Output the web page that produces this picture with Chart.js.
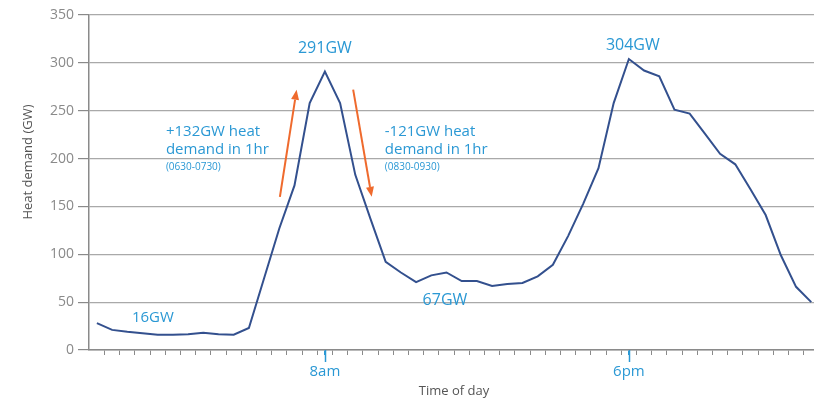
<!DOCTYPE html>
<html>
<head>
<meta charset="utf-8">
<script src="https://cdn.jsdelivr.net/npm/chart.js@4"></script>
<style>
  body { margin: 0; background: #fff; }
  canvas { display: block; }
</style>
</head>
<body>
<canvas id="chart" width="814" height="401"></canvas>
<script>
// half-hourly time (hours) and heat demand (GW)
const hours = [0.5, 1, 1.5, 2, 2.5, 3, 3.5, 4, 4.5, 5, 5.5, 6,
               6.5, 7, 7.5, 8, 8.5, 9, 9.5, 10, 10.5, 11, 11.5, 12,
               12.5, 13, 13.5, 14, 14.5, 15, 15.5, 16, 16.5, 17, 17.5, 18,
               18.5, 19, 19.5, 20, 20.5, 21, 21.5, 22, 22.5, 23, 23.5, 24];
const demand = [28, 21, 19, 17.5, 16, 16, 16.5, 18, 16.5, 16, 23, 75,
                127, 172, 258, 291, 258, 183, 137, 92, 81, 71, 78, 81,
                72, 72, 67, 69, 70, 77, 89, 119, 153, 190, 258, 304,
                292, 286, 251, 247, 226, 205, 194, 168, 141, 99, 66, 50];

const majorTicks = [8, 18];
const majorLabels = ['8am', '6pm'];
const yTicks = [0, 50, 100, 150, 200, 250, 300, 350];

// callout text, anchored in data units (hours, GW)
const callouts = [
    {text: '291GW', x: 8.0, y: 315, size: 16, align: 'center'},
    {text: '304GW', x: 18.13, y: 318.5, size: 16, align: 'center'},
    {text: '16GW', x: 2.34, y: 33.5, size: 15, align: 'center'},
    {text: '67GW', x: 11.95, y: 52, size: 16, align: 'center'},
    {text: '+132GW heat', x: 2.77, y: 228, size: 15, align: 'left'},
    {text: 'demand in 1hr', x: 2.77, y: 209, size: 15, align: 'left'},
    {text: '(0630-0730)', x: 2.77, y: 191.5, size: 10, align: 'left'},
    {text: '-121GW heat', x: 9.97, y: 228, size: 15, align: 'left'},
    {text: 'demand in 1hr', x: 9.97, y: 209, size: 15, align: 'left'},
    {text: '(0830-0930)', x: 9.97, y: 191.5, size: 10, align: 'left'}
];
const arrows = [
    {from: [6.52, 160], to: [7.07, 272]},
    {from: [8.93, 272], to: [9.54, 160]}
];

const BLUE = '#2a98d4';
const ORANGE = '#ef6a2d';
const LINE = '#33508e';
const GRID = '#a9a9a9';
const FONT = "'Open Sans', sans-serif";

const extras = {
    id: 'extras',
    afterDraw(chart) {
        const ctx = chart.ctx;
        const xs = chart.scales.x, ys = chart.scales.y;
        ctx.save();

        // longer blue major ticks
        ctx.strokeStyle = BLUE;
        ctx.lineWidth = 1.5;
        majorTicks.forEach(t => {
            const px = Math.round(xs.getPixelForValue(t)) + 0.5;
            ctx.beginPath();
            ctx.moveTo(px, ys.bottom);
            ctx.lineTo(px, ys.bottom + 12);
            ctx.stroke();
        });

        // callouts
        ctx.fillStyle = BLUE;
        ctx.textBaseline = 'middle';
        callouts.forEach(c => {
            ctx.font = c.size + 'px ' + FONT;
            ctx.textAlign = c.align;
            ctx.fillText(c.text, xs.getPixelForValue(c.x), ys.getPixelForValue(c.y));
        });

        // arrows
        ctx.strokeStyle = ORANGE;
        ctx.fillStyle = ORANGE;
        ctx.lineWidth = 2;
        arrows.forEach(a => {
            const x1 = xs.getPixelForValue(a.from[0]), y1 = ys.getPixelForValue(a.from[1]);
            const x2 = xs.getPixelForValue(a.to[0]), y2 = ys.getPixelForValue(a.to[1]);
            const ang = Math.atan2(y2 - y1, x2 - x1);
            const hl = 10, hw = 4;
            const bx = x2 - hl * Math.cos(ang), by = y2 - hl * Math.sin(ang);
            ctx.beginPath();
            ctx.moveTo(x1, y1);
            ctx.lineTo(bx, by);
            ctx.stroke();
            ctx.beginPath();
            ctx.moveTo(x2, y2);
            ctx.lineTo(bx + hw * Math.sin(ang), by - hw * Math.cos(ang));
            ctx.lineTo(bx - hw * Math.sin(ang), by + hw * Math.cos(ang));
            ctx.closePath();
            ctx.fill();
        });

        // axis titles
        ctx.fillStyle = '#555';
        ctx.font = '13px ' + FONT;
        ctx.textAlign = 'center';
        ctx.fillText('Time of day', 454, 391);
        ctx.translate(28, 162);
        ctx.rotate(-Math.PI / 2);
        ctx.fillText('Heat demand (GW)', 0, 0);
        ctx.restore();
    }
};

new Chart(document.getElementById('chart'), {
    type: 'line',
    data: {
        datasets: [{
            data: hours.map((h, i) => ({x: h, y: demand[i]})),
            borderColor: LINE,
            borderWidth: 2,
            pointRadius: 0,
            tension: 0
        }]
    },
    options: {
        responsive: false,
        animation: false,
        devicePixelRatio: 1,
        layout: {padding: {top: 15, right: 0, left: 0, bottom: 0}},
        plugins: {legend: {display: false}, tooltip: {enabled: false}},
        scales: {
            x: {
                type: 'linear',
                min: 0.24,
                max: 24.09,
                afterFit: s => { s.height = 51; },
                afterBuildTicks: s => {
                    const t = [];
                    for (let v = 0.75; v < 24; v += 0.5) t.push({value: v});
                    majorTicks.forEach(v => t.push({value: v}));
                    s.ticks = t;
                },
                grid: {
                    drawOnChartArea: false,
                    tickLength: 5,
                    tickColor: c => majorTicks.includes(c.tick && c.tick.value) ? BLUE : '#8a8a8a'
                },
                border: {color: '#8a8a8a', width: 1.5},
                ticks: {
                    autoSkip: false,
                    maxRotation: 0,
                    padding: 8,
                    color: BLUE,
                    font: {family: FONT, size: 15},
                    callback: v => {
                        const i = majorTicks.indexOf(v);
                        return i >= 0 ? majorLabels[i] : '';
                    }
                }
            },
            y: {
                min: 0,
                max: 350,
                afterFit: s => { s.width = 89; },
                afterBuildTicks: s => { s.ticks = yTicks.map(v => ({value: v})); },
                grid: {color: GRID, lineWidth: 1.2, tickLength: 11, tickColor: '#8a8a8a'},
                border: {color: '#8a8a8a', width: 1.5},
                ticks: {
                    padding: 4,
                    color: '#8a8a8a',
                    font: {family: FONT, size: 14}
                }
            }
        }
    },
    plugins: [extras]
});
</script>
</body>
</html>
